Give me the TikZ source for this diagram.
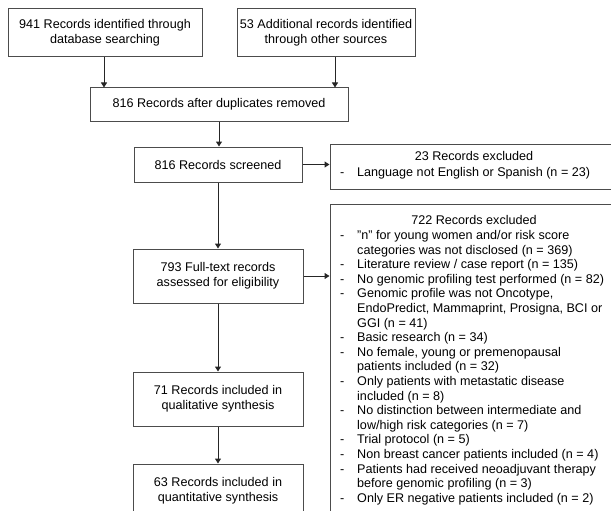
\documentclass[tikz,border=0pt]{standalone}
\usepackage{fontspec}
\setmainfont{Liberation Sans}
\usepackage{array}
\usetikzlibrary{arrows.meta}
\tikzset{
  box/.style={draw=black!70, line width=1pt, fill=white, inner sep=0pt, align=center,
    font=\fontsize{12.6}{14.6}\selectfont},
  txt/.style={inner sep=0pt, font=\fontsize{12.6}{14.6}\selectfont},
  arr/.style={draw=black!85, line width=1pt, -{Triangle[length=5pt,width=6pt]}}
}
\begin{document}
\begin{tikzpicture}[x=1pt,y=-1pt]
\useasboundingbox (0,0) rectangle (611,511);
\clip (0,0) rectangle (611,511);
\fill[white] (0,0) rectangle (611,511);
% left column
\node[box, minimum width=194pt, minimum height=48pt] (A) at (105,33)
  {941 Records identified through\\database searching};
\node[box, minimum width=178pt, minimum height=48pt] (B) at (326,33)
  {53 Additional records identified\\through other sources};
\node[box, minimum width=258pt, minimum height=33pt] (C) at (219,104.5)
  {816 Records after duplicates removed};
\node[box, minimum width=168pt, minimum height=35pt] (D) at (218,164.5)
  {816 Records screened};
\node[box, minimum width=170pt, minimum height=54pt] (G) at (218,276)
  {793 Full-text records\\assessed for eligibility};
\node[box, minimum width=170pt, minimum height=54pt] (H) at (218,399)
  {71 Records included in\\qualitative synthesis};
\node[box, minimum width=170pt, minimum height=54pt] (I) at (218,491)
  {63 Records included in\\quantitative synthesis};
% right column
\node[box, minimum width=288pt, minimum height=45pt] (E) at (474,166.5) {};
\node[txt, anchor=base] (Et) at (474,160) {23 Records excluded};
\node[txt, anchor=base west] (El) at (340,176.5)
  {\begin{tabular}[t]{@{}p{17pt}@{}>{\raggedright\arraybackslash}p{300pt}@{}}
  - & Language not English or Spanish (n = 23)\end{tabular}};
\node[box, minimum width=288pt, minimum height=316pt] (F) at (474,362) {};
\node[txt, anchor=base] (Ft) at (474,224.5) {722 Records excluded};
\node[txt, anchor=base west] (Fl) at (340,239.5)
  {\begin{tabular}[t]{@{}p{17pt}@{}>{\raggedright\arraybackslash}p{300pt}@{}}
  - & "n" for young women and/or risk score\newline categories was not disclosed (n = 369)\\
  - & Literature review / case report (n = 135)\\
  - & No genomic profiling test performed (n = 82)\\
  - & Genomic profile was not Oncotype,\newline EndoPredict, Mammaprint, Prosigna, BCI or\newline GGI (n = 41)\\
  - & Basic research (n = 34)\\
  - & No female, young or premenopausal\newline patients included (n = 32)\\
  - & Only patients with metastatic disease\newline included (n = 8)\\
  - & No distinction between intermediate and\newline low/high risk categories (n = 7)\\
  - & Trial protocol (n = 5)\\
  - & Non breast cancer patients included (n = 4)\\
  - & Patients had received neoadjuvant therapy\newline before genomic profiling (n = 3)\\
  - & Only ER negative patients included (n = 2)
  \end{tabular}};
% connectors
\draw[arr] ([xshift=-1pt]A.south) -- ([xshift=-1pt]A.south |- C.north);
\draw[arr] ([xshift=9pt]B.south) -- ([xshift=9pt]B.south |- C.north);
\draw[arr] (C.south) -- (C.south |- D.north);
\draw[arr] (D.east) -- (D.east -| E.west);
\draw[arr] (D.south) -- (G.north);
\draw[arr] (G.east) -- (G.east -| F.west);
\draw[arr] (G.south) -- (H.north);
\draw[arr] (H.south) -- (I.north);
\end{tikzpicture}
\end{document}
